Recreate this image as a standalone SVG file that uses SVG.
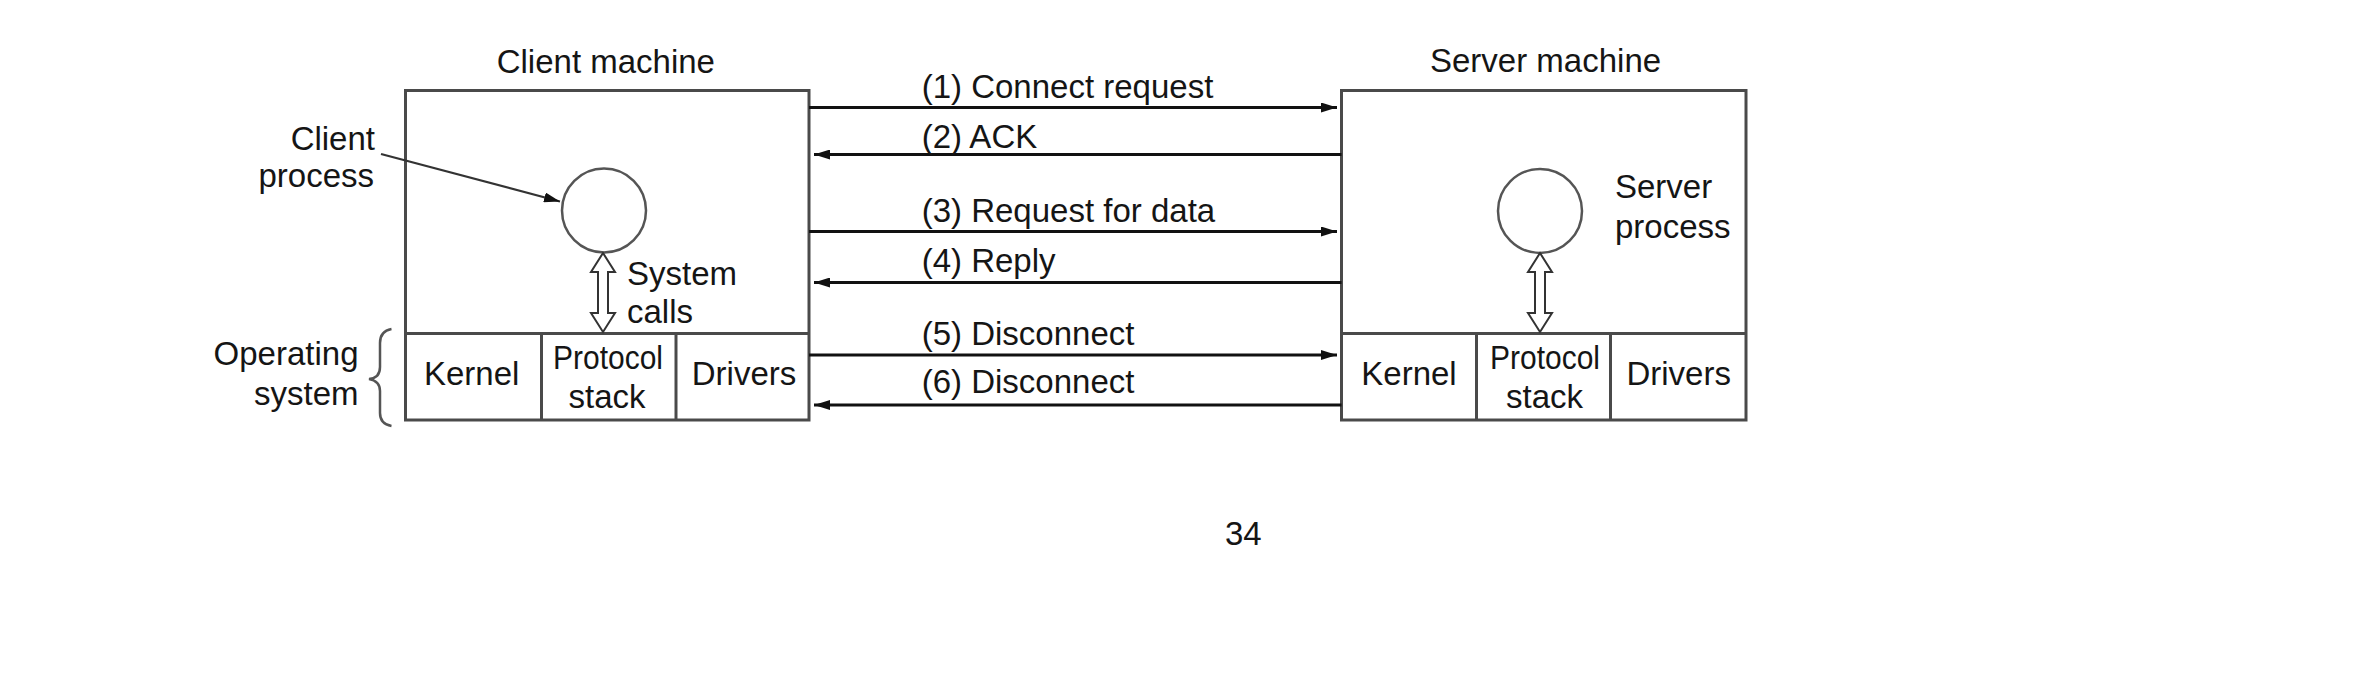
<svg xmlns="http://www.w3.org/2000/svg" width="2361" height="694" viewBox="0 0 2361 694">
  <style>
    text { font-family: "Liberation Sans", Arial, Helvetica, sans-serif; font-size: 33px; fill: #151515; }
    .mid { text-anchor: middle; }
    .end { text-anchor: end; }
    .box { fill: #ffffff; stroke: #4a4a4a; stroke-width: 3; }
    .div { stroke: #4a4a4a; stroke-width: 3; fill: none; }
    .proc { fill: #ffffff; stroke: #555555; stroke-width: 2.5; }
    .msg { stroke: #111111; stroke-width: 3.2; fill: none; }
    .dbl { fill: #ffffff; stroke: #333333; stroke-width: 2; stroke-linejoin: miter; }
    .brace { fill: none; stroke: #555555; stroke-width: 2.5; }
  </style>
  <defs>
    <marker id="ah" viewBox="0 0 16 10" refX="16" refY="5" markerWidth="16" markerHeight="10" markerUnits="userSpaceOnUse" orient="auto">
      <path d="M0,0 L16,5 L0,10 Z" fill="#111111"/>
    </marker>
  </defs>
  <rect x="0" y="0" width="2361" height="694" fill="#ffffff"/>

  <g id="client-machine">
    <text x="496.7" y="73">Client machine</text>
    <rect class="box" x="405.5" y="90.5" width="403.5" height="329.5"/>
    <line class="div" x1="405.5" y1="333.5" x2="809" y2="333.5"/>
    <line class="div" x1="541.5" y1="333.5" x2="541.5" y2="420"/>
    <line class="div" x1="676" y1="333.5" x2="676" y2="420"/>
    <circle id="client-process" class="proc" cx="604" cy="210.5" r="42"/>
    <text class="mid" x="471.7" y="385">Kernel</text>
    <text class="mid" x="608" y="369" textLength="110" lengthAdjust="spacingAndGlyphs">Protocol</text>
    <text class="mid" x="607" y="408">stack</text>
    <text class="mid" x="744" y="385">Drivers</text>
    <text x="627" y="285">System</text>
    <text x="627" y="323">calls</text>
  </g>

  <g id="client-process-label">
    <text class="end" x="375" y="150">Client</text>
    <text class="end" x="374" y="187">process</text>
  </g>

  <g id="operating-system-label">
    <text class="end" x="358.5" y="365">Operating</text>
    <text class="end" x="358.5" y="405">system</text>
    <path class="brace" d="M391.5,329 Q380,331 380,343 L380,367 Q380,378 369,379 Q380,381 380,391 L380,413 Q380,424 391.5,426"/>
  </g>

  <g id="server-machine">
    <text x="1430" y="72">Server machine</text>
    <rect class="box" x="1341.5" y="90.5" width="404.5" height="329.5"/>
    <line class="div" x1="1341.5" y1="333.5" x2="1746" y2="333.5"/>
    <line class="div" x1="1476.5" y1="333.5" x2="1476.5" y2="420"/>
    <line class="div" x1="1610.5" y1="333.5" x2="1610.5" y2="420"/>
    <circle id="server-process" class="proc" cx="1540" cy="211" r="42"/>
    <text class="mid" x="1409" y="385">Kernel</text>
    <text class="mid" x="1545" y="369" textLength="110" lengthAdjust="spacingAndGlyphs">Protocol</text>
    <text class="mid" x="1544.5" y="408">stack</text>
    <text class="mid" x="1678.7" y="385">Drivers</text>
    <text x="1615" y="198">Server</text>
    <text x="1615" y="238">process</text>
  </g>

  <g id="connectors">
    <line class="msg" x1="809" y1="107.5" x2="1337" y2="107.5" marker-end="url(#ah)"/>
    <line class="msg" x1="1341.5" y1="154.5" x2="814" y2="154.5" marker-end="url(#ah)"/>
    <line class="msg" x1="809" y1="231.5" x2="1337" y2="231.5" marker-end="url(#ah)"/>
    <line class="msg" x1="1341.5" y1="282.5" x2="814" y2="282.5" marker-end="url(#ah)"/>
    <line class="msg" x1="809" y1="355" x2="1337" y2="355" marker-end="url(#ah)"/>
    <line class="msg" x1="1341.5" y1="405" x2="814" y2="405" marker-end="url(#ah)"/>
    <line x1="381" y1="154" x2="560" y2="201.5" stroke="#333333" stroke-width="2.2" marker-end="url(#ah)"/>
    <path class="dbl" d="M603,253 L615,272 L608,272 L608,313 L615,313 L603,332 L591,313 L598,313 L598,272 L591,272 Z"/>
    <path class="dbl" d="M1540,253 L1552,272 L1545,272 L1545,313 L1552,313 L1540,332 L1528,313 L1535,313 L1535,272 L1528,272 Z"/>
  </g>

  <g id="message-labels">
    <text x="921.7" y="98.3">(1) Connect request</text>
    <text x="921.7" y="148.3">(2) ACK</text>
    <text x="921.7" y="221.7">(3) Request for data</text>
    <text x="921.7" y="271.7">(4) Reply</text>
    <text x="921.7" y="345">(5) Disconnect</text>
    <text x="921.7" y="393.3">(6) Disconnect</text>
  </g>

  <text x="1225" y="545">34</text>
</svg>
